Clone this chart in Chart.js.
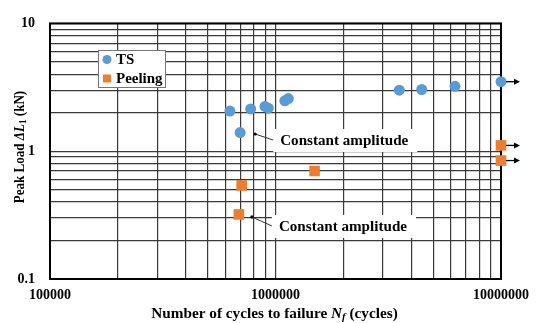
<!DOCTYPE html>
<html>
<head>
<meta charset="utf-8">
<script src="https://cdn.jsdelivr.net/npm/chart.js@4.4.0/dist/chart.umd.min.js"></script>
<style>
  html, body { margin: 0; padding: 0; background: #fff; }
</style>
</head>
<body>
<canvas id="chart" width="539" height="323"></canvas>
<script>
// TS series: cycles to failure / peak load (kN)
var tsCycles = [628000, 776000, 898000, 929000, 1100000, 1140000, 697000, 3540000, 4450000, 6250000, 10000000];
var tsLoad = [2.06, 2.14, 2.24, 2.17, 2.48, 2.58, 1.40, 3.00, 3.04, 3.22, 3.50];

// Peeling series
var peelCycles = [708000, 688000, 1490000, 10000000, 10000000];
var peelLoad = [0.54, 0.32, 0.70, 1.11, 0.845];

// tests stopped here (runout) -> arrow
var runoutCycles = 10000000;

// grid lines and labelled ticks
var xTicks = [100000, 200000, 300000, 400000, 500000, 600000, 700000, 800000, 900000,
  1000000, 2000000, 3000000, 4000000, 5000000, 6000000, 7000000, 8000000, 9000000, 10000000];
var yTicks = [0.1, 0.2, 0.3, 0.4, 0.5, 0.6, 0.7, 0.8, 0.9, 1, 2, 3, 4, 5, 6, 7, 8, 9, 10];
var xLabels = [100000, 1000000, 10000000];
var yLabels = [0.1, 1, 10];

// callouts pointing at a data point
var notes = [
  { x: 697000, y: 1.40, text: 'Constant amplitude' },
  { x: 688000, y: 0.32, text: 'Constant amplitude' }
];

var SERIF = '"Liberation Serif", "Times New Roman", serif';
var noteOffsets = [{ dot: [15, 1.5], ty: 8.5 }, { dot: [13, 2.5], ty: 12.5 }];

function toPoints(xs, ys) {
  return xs.map(function (x, i) { return { x: x, y: ys[i] }; });
}

// draws mixed-style text centred on (x, y), sx = horizontal stretch
function drawRuns(ctx, runs, x, y, sx) {
  var total = 0;
  runs.forEach(function (r) { ctx.font = r.font; r.w = ctx.measureText(r.t).width; total += r.w; });
  ctx.save();
  ctx.translate(x, y);
  ctx.scale(sx, 1);
  var cx = -total / 2;
  ctx.textAlign = 'left';
  ctx.textBaseline = 'middle';
  runs.forEach(function (r) { ctx.font = r.font; ctx.fillText(r.t, cx, r.dy || 0); cx += r.w; });
  ctx.restore();
}

var extras = {
  id: 'extras',
  beforeDatasetsDraw: function (chart) {
    var ctx = chart.ctx, a = chart.chartArea;
    var xs = chart.scales.x, ys = chart.scales.y;
    ctx.save();
    // plot frame
    ctx.strokeStyle = '#000';
    ctx.lineWidth = 2;
    ctx.strokeRect(a.left, a.top, a.right - a.left, a.bottom - a.top);

    // callouts
    notes.forEach(function (n, i) {
      var off = noteOffsets[i];
      var px = xs.getPixelForValue(n.x), py = ys.getPixelForValue(n.y);
      var tx = px + 40, ty = py + off.ty;
      ctx.font = 'bold 14px ' + SERIF;
      var w = ctx.measureText(n.text).width * 1.08;
      ctx.fillStyle = '#fff';
      ctx.fillRect(tx - 7, ty - 12, w + 16, 23);
      ctx.strokeStyle = '#333';
      ctx.lineWidth = 1;
      ctx.beginPath();
      ctx.moveTo(px + off.dot[0], py + off.dot[1]);
      ctx.lineTo(tx - 7, ty - 1);
      ctx.stroke();
      ctx.fillStyle = '#000';
      ctx.beginPath();
      ctx.arc(px + off.dot[0], py + off.dot[1], 1.6, 0, Math.PI * 2);
      ctx.fill();
      ctx.save();
      ctx.translate(tx, ty);
      ctx.scale(1.08, 1);
      ctx.textAlign = 'left';
      ctx.textBaseline = 'middle';
      ctx.fillText(n.text, 0, 0);
      ctx.restore();
    });

    // legend box
    var lx = 98, ly = 50;
    ctx.fillStyle = '#fff';
    ctx.fillRect(lx, ly, 68, 37);
    ctx.strokeStyle = '#777';
    ctx.lineWidth = 1;
    ctx.strokeRect(lx + 0.5, ly + 0.5, 67, 37);
    chart.data.datasets.forEach(function (ds, i) {
      var cy = ly + 9.5 + i * 19;
      ctx.fillStyle = ds.backgroundColor;
      ctx.beginPath();
      if (ds.pointStyle === 'rect') {
        ctx.rect(lx + 5, cy - 4, 8, 8);
      } else {
        ctx.arc(lx + 9, cy, 4.5, 0, Math.PI * 2);
      }
      ctx.fill();
      ctx.fillStyle = '#000';
      ctx.font = 'bold 14px ' + SERIF;
      ctx.save();
      ctx.translate(lx + 18, cy + 0.5);
      ctx.scale(1.07, 1);
      ctx.textAlign = 'left';
      ctx.textBaseline = 'middle';
      ctx.fillText(ds.label, 0, 0);
      ctx.restore();
    });
    ctx.restore();
  },
  afterDatasetsDraw: function (chart) {
    var ctx = chart.ctx;
    var xs = chart.scales.x, ys = chart.scales.y;
    ctx.save();
    ctx.strokeStyle = '#000';
    ctx.fillStyle = '#000';
    ctx.lineWidth = 1.3;
    chart.data.datasets.forEach(function (ds) {
      ds.data.forEach(function (p) {
        if (p.x < runoutCycles) return;
        var px = xs.getPixelForValue(p.x), py = ys.getPixelForValue(p.y);
        ctx.beginPath();
        ctx.moveTo(px + 5, py);
        ctx.lineTo(px + 14, py);
        ctx.stroke();
        ctx.beginPath();
        ctx.moveTo(px + 19, py);
        ctx.lineTo(px + 13, py - 3);
        ctx.lineTo(px + 13, py + 3);
        ctx.closePath();
        ctx.fill();
      });
    });
    ctx.restore();
  },
  afterDraw: function (chart) {
    var ctx = chart.ctx, a = chart.chartArea;
    ctx.save();
    ctx.fillStyle = '#000';
    var bold = 'bold 14px ' + SERIF, boldIt = 'italic bold 14px ' + SERIF, sub = 'italic bold 10px ' + SERIF;
    drawRuns(ctx, [
      { t: 'Number of cycles to failure ', font: bold },
      { t: 'N', font: boldIt },
      { t: 'f', font: sub, dy: 3 },
      { t: ' (cycles)', font: bold }
    ], (a.left + a.right) / 2 - 1, 314, 1.09);
    ctx.translate(20, 147);
    ctx.rotate(-Math.PI / 2);
    drawRuns(ctx, [
      { t: 'Peak Load ', font: bold },
      { t: '\u0394L', font: boldIt },
      { t: '1', font: 'bold 10px ' + SERIF, dy: 3 },
      { t: ' (kN)', font: bold }
    ], 0, 0, 0.93);
    ctx.restore();
  }
};

var data = {
  datasets: [{
    label: 'TS',
    data: toPoints(tsCycles, tsLoad),
    backgroundColor: '#5B9BD5',
    borderColor: '#5B9BD5',
    pointStyle: 'circle',
    pointRadius: 5.5,
    borderWidth: 0,
    clip: false
  }, {
    label: 'Peeling',
    data: toPoints(peelCycles, peelLoad),
    backgroundColor: '#ED7D31',
    borderColor: '#ED7D31',
    pointStyle: 'rect',
    pointRadius: 7.5,
    borderWidth: 0,
    clip: false
  }]
};

var chartConfig = {
  type: 'scatter',
  data: data,
  plugins: [extras],
  options: {
    responsive: false,
    animation: false,
    layout: { padding: { top: 15, right: 38, left: 0, bottom: 0 } },
    plugins: {
      legend: { display: false },
      tooltip: { enabled: false }
    },
    scales: {
      x: {
        type: 'logarithmic',
        min: 100000,
        max: 10000000,
        afterBuildTicks: function (scale) {
          scale.ticks = xTicks.map(function (v) { return { value: v }; });
        },
        afterFit: function (scale) { scale.height = 44; },
        grid: { color: '#3a3a3a', lineWidth: 1.2, drawTicks: false },
        border: { display: false },
        ticks: {
          autoSkip: false,
          maxRotation: 0,
          minRotation: 0,
          padding: 8,
          color: '#000',
          font: { family: SERIF, size: 14, weight: 'bold' },
          callback: function (v) { return xLabels.indexOf(v) >= 0 ? String(v) : ''; }
        }
      },
      y: {
        type: 'logarithmic',
        min: 0.1,
        max: 10,
        afterBuildTicks: function (scale) {
          scale.ticks = yTicks.map(function (v) { return { value: v }; });
        },
        afterFit: function (scale) { scale.width = 50; },
        grid: { color: '#3a3a3a', lineWidth: 1.2, drawTicks: false },
        border: { display: false },
        ticks: {
          autoSkip: false,
          padding: 15,
          color: '#000',
          font: { family: SERIF, size: 14, weight: 'bold' },
          callback: function (v) { return yLabels.indexOf(v) >= 0 ? String(v) : ''; }
        }
      }
    }
  }
};

new Chart(document.getElementById('chart'), chartConfig);
</script>
</body>
</html>
